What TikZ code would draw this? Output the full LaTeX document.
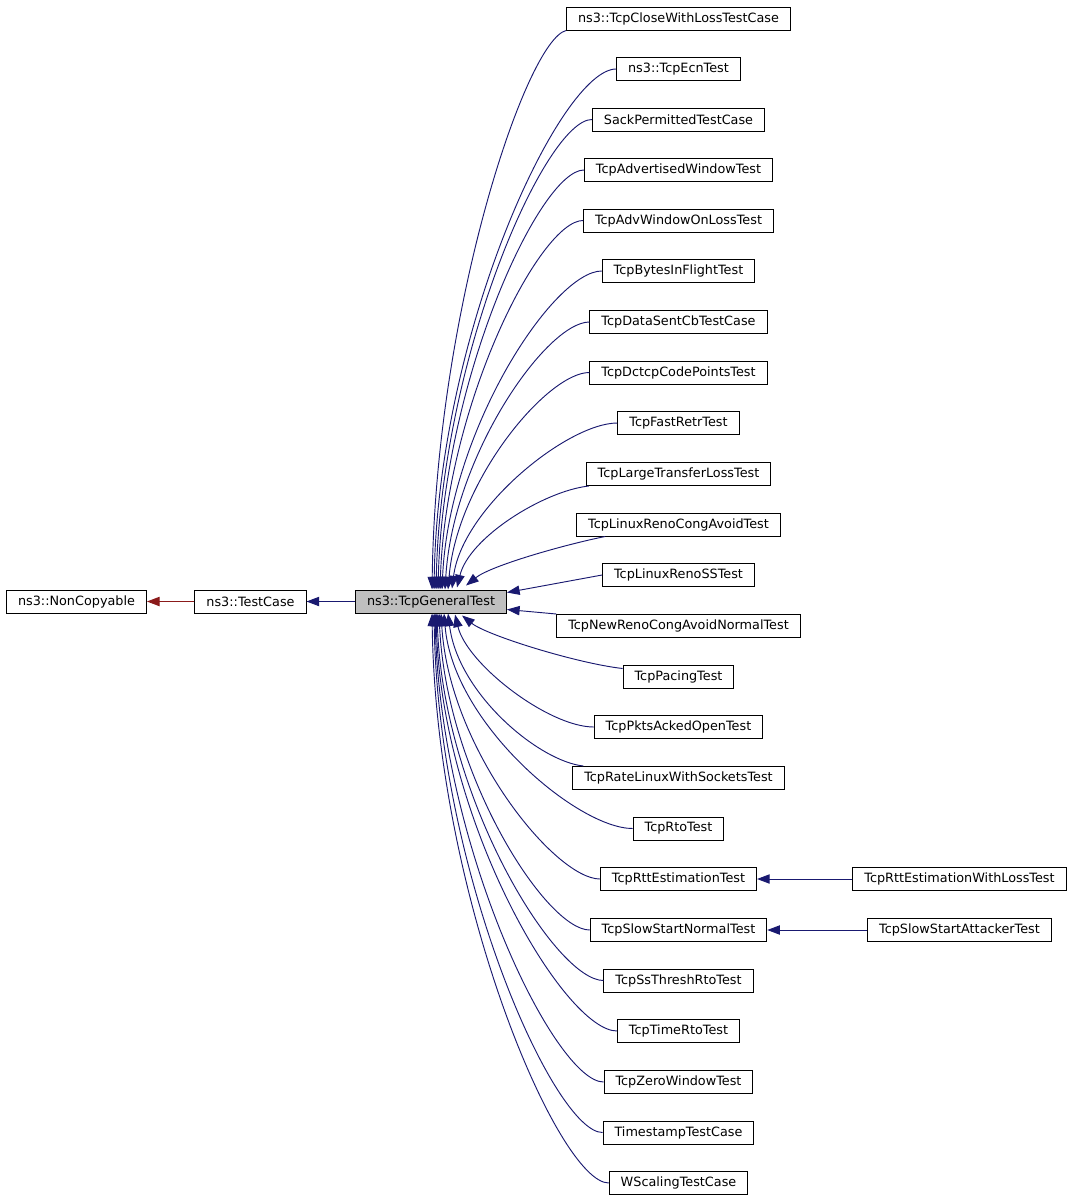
\documentclass[tikz,border=0pt]{standalone}
\usepackage{fontspec}
\setmainfont{DejaVu Sans}
\usepackage{tikz}
\usetikzlibrary{arrows.meta,calc}
\definecolor{edgeblue}{HTML}{191970}
\definecolor{edgered}{HTML}{8B1A1A}
\definecolor{basegray}{HTML}{BFBFBF}

\begin{document}
\begin{tikzpicture}[
  x=0.75pt,y=-0.75pt,
  font=\fontsize{9.6}{11}\selectfont,
  box/.style={draw=black,line width=0.75pt,fill=white,minimum height=17.25pt,inner xsep=8.6pt,inner ysep=0pt},
  basebox/.style={box,fill=basegray},
  inh/.style={draw=edgeblue,line width=0.7pt,-{Triangle[length=9.5pt,width=7pt]}},
  priv/.style={draw=edgered,line width=0.7pt,-{Triangle[length=9.5pt,width=7pt]}},
]
\useasboundingbox (0,0) rectangle (1075,1203);

% base classes
\node[box] (noncopy) at (76.5,601.5) {ns3::NonCopyable};
\node[box] (tcase) at (250.5,601.5) {ns3::TestCase};
\node[basebox] (gen) at (431,601.5) {ns3::TcpGeneralTest};

% derived tests
\node[box] (close) at (678.5,18.5) {ns3::TcpCloseWithLossTestCase};
\node[box] (ecn) at (678.5,69) {ns3::TcpEcnTest};
\node[box] (sack) at (678.5,119.5) {SackPermittedTestCase};
\node[box] (advwin) at (678.5,170) {TcpAdvertisedWindowTest};
\node[box] (advloss) at (678.5,220.5) {TcpAdvWindowOnLossTest};
\node[box] (bytes) at (678.5,271) {TcpBytesInFlightTest};
\node[box] (datasent) at (678.5,322) {TcpDataSentCbTestCase};
\node[box] (dctcp) at (678.5,372.5) {TcpDctcpCodePointsTest};
\node[box] (fastretr) at (678.5,423) {TcpFastRetrTest};
\node[box] (largeloss) at (678.5,474) {TcpLargeTransferLossTest};
\node[box] (rcong) at (678.5,524.5) {TcpLinuxRenoCongAvoidTest};
\node[box] (rss) at (678.5,575) {TcpLinuxRenoSSTest};
\node[box] (nrcong) at (678.5,626) {TcpNewRenoCongAvoidNormalTest};
\node[box] (pacing) at (678.5,676.5) {TcpPacingTest};
\node[box] (pkts) at (678.5,727) {TcpPktsAckedOpenTest};
\node[box] (rate) at (678.5,778) {TcpRateLinuxWithSocketsTest};
\node[box] (rto) at (678.5,828.5) {TcpRtoTest};
\node[box] (rtt) at (678.5,879) {TcpRttEstimationTest};
\node[box] (slow) at (678.5,930) {TcpSlowStartNormalTest};
\node[box] (ssth) at (678.5,980.5) {TcpSsThreshRtoTest};
\node[box] (timerto) at (678.5,1031) {TcpTimeRtoTest};
\node[box] (zerowin) at (678.5,1082) {TcpZeroWindowTest};
\node[box] (tstamp) at (678.5,1132.5) {TimestampTestCase};
\node[box] (wscale) at (678.5,1183) {WScalingTestCase};
\node[box] (rttloss) at (959.5,879) {TcpRttEstimationWithLossTest};
\node[box] (attacker) at (959.5,930) {TcpSlowStartAttackerTest};

% inheritance
\draw[priv] (tcase.west) -- (noncopy.east);
\draw[inh] (gen.west) -- (tcase.east);
\draw[inh] (rttloss.west) -- (rtt.east);
\draw[inh] (attacker.west) -- (slow.east);

\draw[inh] (close.south west) .. controls +(-40,10) and +(4,-280) .. ($(gen.north west)+(77,0)$);
\draw[inh] (ecn.west) .. controls +(-55,0) and +(4,-260) .. ($(gen.north west)+(79,0)$);
\draw[inh] (sack.west) .. controls +(-46,0) and +(5,-235) .. ($(gen.north west)+(81,0)$);
\draw[inh] (advwin.west) .. controls +(-44,0) and +(5,-210) .. ($(gen.north west)+(83,0)$);
\draw[inh] (advloss.west) .. controls +(-43,0) and +(6,-185) .. ($(gen.north west)+(85,0)$);
\draw[inh] (bytes.west) .. controls +(-48,0) and +(7,-160) .. ($(gen.north west)+(87,0)$);
\draw[inh] (datasent.west) .. controls +(-43,0) and +(8,-134) .. ($(gen.north west)+(90,0)$);
\draw[inh] (dctcp.west) .. controls +(-42,0) and +(9,-109) .. ($(gen.north west)+(93,0)$);
\draw[inh] (fastretr.west) .. controls +(-50,0) and +(10,-80) .. ($(gen.north west)+(97,-1)$);
\draw[inh] ($(largeloss.south west)+(3,0)$) .. controls +(-45,5) and +(12,-50) .. ($(gen.north west)+(102,-2)$);
\draw[inh] ($(rcong.south west)+(29,0)$) .. controls +(-40,8) and +(25,-20) .. ($(gen.north west)+(111,-4)$);
\draw[inh] (rss.west) -- ($(gen.east)+(0,-9)$);
\draw[inh] (nrcong.north west) -- ($(gen.east)+(0,8)$);
\draw[inh] ($(pacing.west)+(0,-8)$) .. controls +(-45,-5) and +(25,20) .. ($(gen.south west)+(107,2)$);
\draw[inh] (pkts.west) .. controls +(-45,0) and +(12,50) .. ($(gen.south west)+(100,1)$);
\draw[inh] ($(rate.north west)+(11,0)$) .. controls +(-45,-5) and +(10,80) .. ($(gen.south west)+(93,0)$);
\draw[inh] (rto.west) .. controls +(-55,0) and +(9,110) .. ($(gen.south west)+(89,0)$);
\draw[inh] (rtt.west) .. controls +(-45,0) and +(8,135) .. ($(gen.south west)+(86,0)$);
\draw[inh] (slow.west) .. controls +(-44,0) and +(7,160) .. ($(gen.south west)+(84,0)$);
\draw[inh] (ssth.west) .. controls +(-48,0) and +(6,185) .. ($(gen.south west)+(82,0)$);
\draw[inh] (timerto.west) .. controls +(-52,0) and +(5,210) .. ($(gen.south west)+(81,0)$);
\draw[inh] (zerowin.west) .. controls +(-48,0) and +(5,235) .. ($(gen.south west)+(80,0)$);
\draw[inh] (tstamp.west) .. controls +(-48,0) and +(4,260) .. ($(gen.south west)+(79,0)$);
\draw[inh] (wscale.west) .. controls +(-50,0) and +(4,285) .. ($(gen.south west)+(77,0)$);
\end{tikzpicture}
\end{document}
